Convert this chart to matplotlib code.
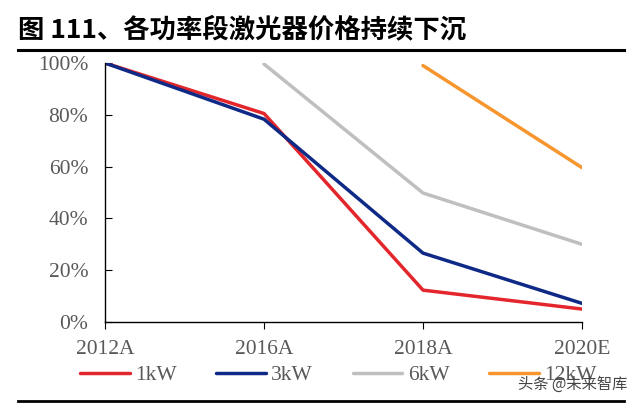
import matplotlib
matplotlib.use("Agg")
import matplotlib.pyplot as plt
import numpy as np

years = ["2012A", "2016A", "2018A", "2020E"]
kw1 = [100, 80.5, 12.3, 5]
kw3 = [100, 78.3, 26.6, 7.2]
kw6 = [None, 99.6, 49.8, 30]
kw12 = [None, None, 99, 59.6]

series = [("1kW", kw1, "#E3262B"), ("3kW", kw3, "#0F2A86"),
          ("6kW", kw6, "#BFBFBF"), ("12kW", kw12, "#F7962F")]

fig = plt.figure(figsize=(6.4, 4.07), dpi=100, facecolor="white")
ax = fig.add_axes([105 / 640, 1 - 322 / 407, 477 / 640, 259 / 407])

x = np.arange(len(years))
for name, vals, col in series:
    v = np.array([np.nan if a is None else a for a in vals], dtype=float)
    ax.plot(x, v, color=col, linewidth=2.5, label=name, solid_capstyle="round")

ax.set_xlim(0, 3)
ax.set_ylim(0, 100)
ax.set_yticks(np.arange(0, 101, 20))
ax.set_yticklabels([f"{t}%" for t in range(0, 101, 20)])
ax.set_xticks(x)
ax.set_xticklabels(years)
for s in ["top", "right"]:
    ax.spines[s].set_visible(False)
for s in ["left", "bottom"]:
    ax.spines[s].set_linewidth(1.0)
ax.tick_params(axis="y", direction="in", length=5, pad=12)
ax.tick_params(axis="x", direction="out", length=5, pad=8)
for lab in ax.get_xticklabels() + ax.get_yticklabels():
    lab.set_fontfamily("Liberation Serif")
    lab.set_fontsize(15.5)
    lab.set_color("#595959")

leg = ax.legend(loc="center left", bbox_to_anchor=(80 / 640, 1 - 375 / 407),
                bbox_transform=fig.transFigure, ncol=4, frameon=False,
                borderpad=0, borderaxespad=0, handlelength=2.3,
                columnspacing=1.85, handletextpad=0.25,
                prop={"family": "Liberation Serif", "size": 15.5})
for t in leg.get_texts():
    t.set_color("#595959")

fig.text(18 / 640, 1 - 30 / 407, "图 111、各功率段激光器价格持续下沉",
         fontsize=19, fontweight="bold", va="center", ha="left",
         family=["Noto Sans CJK SC", "DejaVu Sans"])
fig.add_artist(plt.Line2D([18 / 640, 624 / 640], [1 - 50 / 407, 1 - 50 / 407],
                          color="black", linewidth=2.2))
fig.add_artist(plt.Line2D([18 / 640, 624 / 640], [1 - 401 / 407, 1 - 401 / 407],
                          color="black", linewidth=2.0))
fig.text(627 / 640, 1 - 384 / 407, "头条 @未来智库", fontsize=11, ha="right",
         va="center", color="#444444", family=["Noto Sans CJK SC", "DejaVu Sans"])

fig.savefig("out.png", dpi=100, facecolor="white")
